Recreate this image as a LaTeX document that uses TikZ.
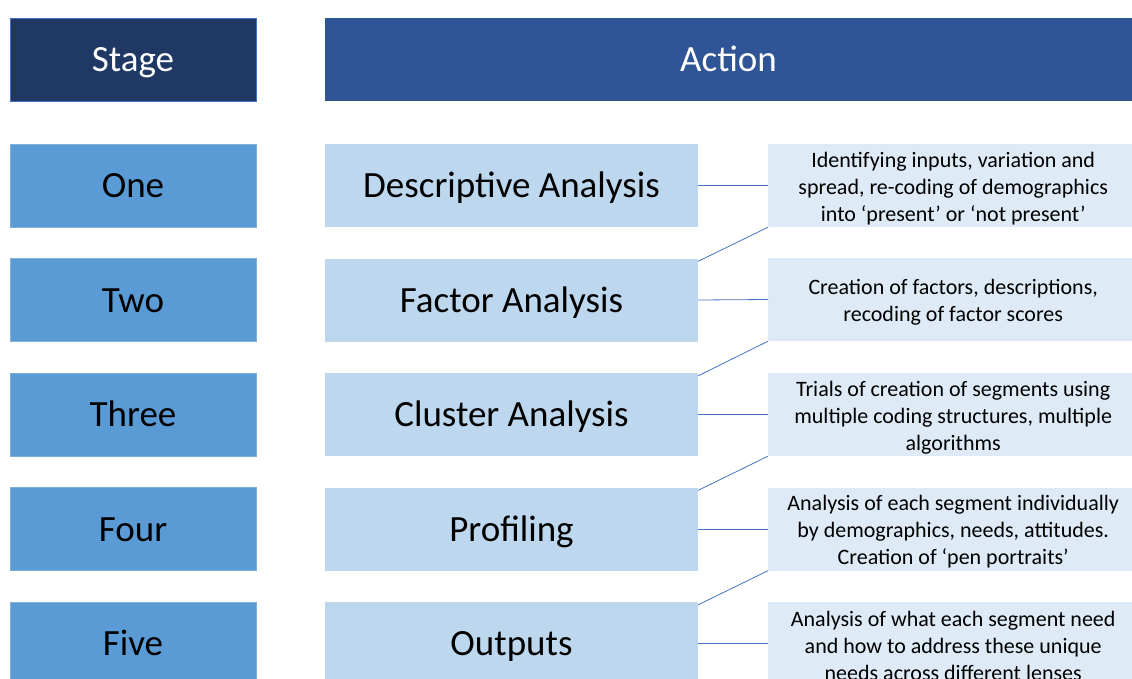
\documentclass[tikz,border=0pt]{standalone}
\usepackage{fontspec}
\setmainfont{Carlito}
\definecolor{navy}{HTML}{203864}
\definecolor{navyedge}{HTML}{4472C4}
\definecolor{actblue}{HTML}{2F5597}
\definecolor{stageblue}{HTML}{5B9BD5}
\definecolor{midblue}{HTML}{BDD7EE}
\definecolor{paleblue}{HTML}{DEEBF7}
\definecolor{linkblue}{HTML}{4472C4}
\newcommand{\firststrut}{\rule{0pt}{21pt}}
\tikzset{
  big/.style={font=\fontsize{37}{44}\selectfont, inner sep=0pt, text height=24pt, text depth=0pt},
  hdrstage/.style={big, fill=navy, draw=navyedge, line width=0.8pt, text=white, minimum width=246pt, minimum height=83pt},
  hdraction/.style={big, fill=actblue, text=white, minimum width=807pt, minimum height=83pt},
  stagebox/.style={big, fill=stageblue, draw=stageblue!80!white, line width=0.5pt, text=black, minimum width=246pt, minimum height=83pt},
  midbox/.style={big, fill=midblue, text=black, minimum width=373pt, minimum height=83pt},
  notebox/.style={font=\fontsize{22}{27}\selectfont, fill=paleblue, text=black, align=center, inner sep=0pt, minimum width=370pt, minimum height=83pt, anchor=west},
  link/.style={draw=linkblue, line width=0.8pt}
}
\begin{document}
\begin{tikzpicture}[x=1pt,y=-1pt]
\useasboundingbox (0,0) rectangle (1132,678);
\node[hdrstage] (stage) at (133,59.5) {Stage};
\node[hdraction] (action) at (728.5,59.5) {Action};

\node[stagebox] (s1) at (133,185.5) {One};
\node[stagebox] (s2) at (133,300) {Two};
\node[stagebox] (s3) at (133,414.5) {Three};
\node[stagebox] (s4) at (133,529) {Four};
\node[stagebox] (s5) at (133,643.5) {Five};

\node[midbox] (m1) at (511.5,185.5) {Descriptive Analysis};
\node[midbox] (m2) at (511.5,300) {Factor Analysis};
\node[midbox] (m3) at (511.5,414.5) {Cluster Analysis};
\node[midbox] (m4) at (511.5,529) {Profiling};
\node[midbox] (m5) at (511.5,643.5) {Outputs};

\node[notebox] (n1) at (768,185.5) {\firststrut Identifying inputs, variation and\\spread, re-coding of demographics\\into ‘present’ or ‘not present’};
\node[notebox] (n2) at (768,299.5) {\firststrut Creation of factors, descriptions,\\recoding of factor scores};
\node[notebox] (n3) at (768,414.5) {\firststrut Trials of creation of segments using\\multiple coding structures, multiple\\algorithms};
\node[notebox] (n4) at (768,529) {\firststrut Analysis of each segment individually\\by demographics, needs, attitudes.\\Creation of ‘pen portraits’};
\node[notebox] (n5) at (768,643.5) {\firststrut Analysis of what each segment need\\and how to address these unique\\needs across different lenses};

\draw[link] (m1.east) -- (n1.west);
\draw[link] (m2.east) -- (n2.west);
\draw[link] (m3.east) -- (n3.west);
\draw[link] (m4.east) -- (n4.west);
\draw[link] (m5.east) -- (n5.west);

\draw[link] ([yshift=-3pt]m2.north east) -- (n1.south west);
\draw[link] ([yshift=-3pt]m3.north east) -- (n2.south west);
\draw[link] ([yshift=-3pt]m4.north east) -- (n3.south west);
\draw[link] ([yshift=-3pt]m5.north east) -- (n4.south west);
\end{tikzpicture}
\end{document}
